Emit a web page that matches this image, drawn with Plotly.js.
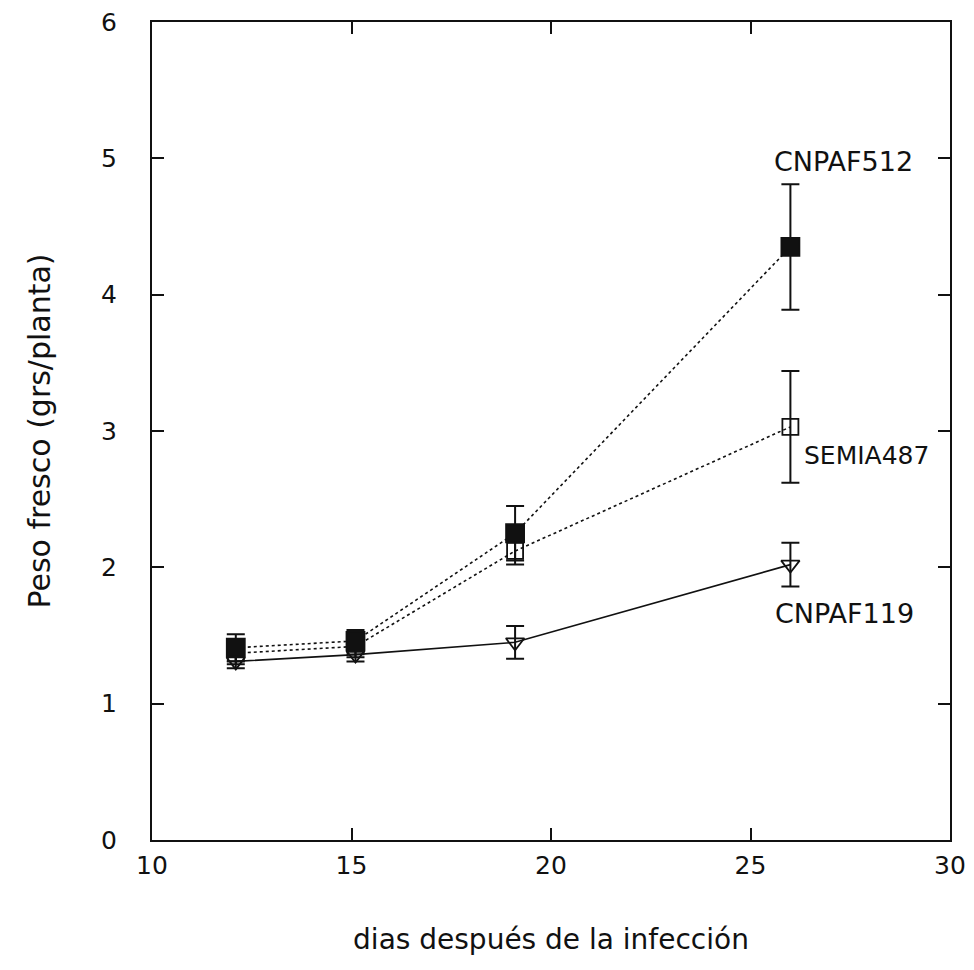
<!DOCTYPE html>
<html>
<head>
<meta charset="utf-8">
<script src="https://cdn.plot.ly/plotly-3.0.1.min.js"></script>
<style>
  html, body { margin: 0; padding: 0; background: #fff; }
  #chart { width: 974px; height: 970px; }
</style>
</head>
<body>
<div id="chart"></div>
<script>
// Days after infection
const dias = [12.1, 15.1, 19.1, 26];

// Fresh weight per plant (g) and error
const cnpaf512 = [1.41, 1.46, 2.25, 4.35];
const cnpaf512Err = [0.10, 0.08, 0.20, 0.46];

const semia487 = [1.37, 1.42, 2.12, 3.03];
const semia487Err = [0.08, 0.08, 0.10, 0.41];

const cnpaf119 = [1.31, 1.36, 1.45, 2.02];
const cnpaf119Err = [0.05, 0.05, 0.12, 0.16];

const labelNames = ['CNPAF512', 'SEMIA487', 'CNPAF119'];

const font = { family: 'DejaVu Sans, Arial, sans-serif', color: '#111' };
const f = (size) => Object.assign({ size: size }, font);

function series(y, err, symbol, size, dash) {
  return {
    x: dias, y: y, type: 'scatter', mode: 'lines+markers',
    line: { color: '#111', width: 1.6, dash: dash },
    marker: { symbol: symbol, size: size, color: '#111',
              line: { color: '#111', width: 1.8 } },
    error_y: { type: 'data', array: err, visible: true,
               color: '#111', thickness: 2, width: 9 },
    showlegend: false, hoverinfo: 'x+y'
  };
}

const data = [
  series(cnpaf119, cnpaf119Err, 'triangle-down-open', 16, 'solid'),
  series(semia487, semia487Err, 'square-open', 16, 'dot'),
  series(cnpaf512, cnpaf512Err, 'square', 18, 'dot')
];

const layout = {
  width: 974, height: 970,
  margin: { l: 152, r: 24, t: 22, b: 130 },
  paper_bgcolor: '#fff', plot_bgcolor: '#fff',
  font: f(24),
  xaxis: {
    range: [10, 30], tickvals: [10, 15, 20, 25, 30],
    ticks: 'inside', ticklen: 12, tickwidth: 2, tickcolor: '#111',
    showline: true, linewidth: 2, linecolor: '#111', mirror: 'ticks',
    showgrid: false, zeroline: false,
    ticklabelstandoff: 2,
    tickfont: f(25),
    title: { text: 'dias después de la infección', standoff: 50, font: f(28) }
  },
  yaxis: {
    range: [0, 6], tickvals: [0, 1, 2, 3, 4, 5, 6],
    ticks: 'inside', ticklen: 12, tickwidth: 2, tickcolor: '#111',
    showline: true, linewidth: 2, linecolor: '#111', mirror: 'ticks',
    showgrid: false, zeroline: false,
    ticklabelstandoff: 28,
    tickfont: f(25),
    title: { text: 'Peso fresco (grs/planta)', standoff: 42, font: f(30) }
  },
  annotations: [
    { x: 27.34, y: 4.98, text: labelNames[0], showarrow: false,
      xanchor: 'center', yanchor: 'middle', font: f(27) },
    { x: 26.3, y: 2.82, text: labelNames[1], showarrow: false,
      xanchor: 'left', yanchor: 'middle', font: f(25) },
    { x: 27.35, y: 1.66, text: labelNames[2], showarrow: false,
      xanchor: 'center', yanchor: 'middle', font: f(27) }
  ]
};

Plotly.newPlot('chart', data, layout, { staticPlot: true, displayModeBar: false });
</script>
</body>
</html>
